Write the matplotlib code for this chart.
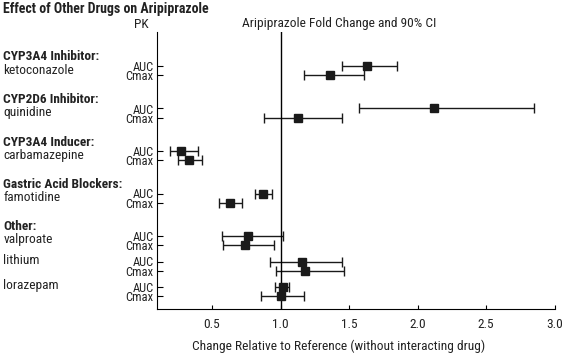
import numpy as np
import matplotlib
matplotlib.use("Agg")
import matplotlib.pyplot as plt
from matplotlib import font_manager, transforms

# condensed face close to the original's narrow grotesque
names = {f.name for f in font_manager.fontManager.ttflist}
prefs = ['Liberation Sans Narrow', 'Roboto Condensed', 'Asap Condensed', 'Barlow Condensed']
face = [n for n in prefs if n in names][:1]
plt.rcParams['font.family'] = face + ['Liberation Sans', 'DejaVu Sans']

# groups: header (bold) and drug name
headers = ["CYP3A4 Inhibitor:", "CYP2D6 Inhibitor:", "CYP3A4 Inducer:",
           "Gastric Acid Blockers:", "Other:", "", ""]
drugs = ["ketoconazole", "quinidine", "carbamazepine", "famotidine",
         "valproate", "lithium", "lorazepam"]

# fold change (point, lower 90% CI, upper 90% CI)
auc_mid = [1.63, 2.12, 0.27, 0.875, 0.765, 1.16, 1.015]
auc_lo = [1.45, 1.57, 0.19, 0.81, 0.57, 0.92, 0.96]
auc_hi = [1.85, 2.85, 0.40, 0.94, 1.02, 1.45, 1.065]
cmax_mid = [1.36, 1.13, 0.33, 0.63, 0.74, 1.18, 1.00]
cmax_lo = [1.17, 0.88, 0.25, 0.55, 0.58, 0.97, 0.86]
cmax_hi = [1.61, 1.45, 0.43, 0.72, 0.95, 1.46, 1.17]

xticks = [0.5, 1.0, 1.5, 2.0, 2.5, 3.0]

# row layout (axis units ~ pixels, downward)
y_auc = []
y = 34.3
for i, h in enumerate(headers):
    if i > 0:
        y += 42.5 if h else 25.5
    y_auc.append(y)
y_auc = np.array(y_auc)
y_cmax = y_auc + 9.2

fig = plt.figure(figsize=(5.72, 3.62), dpi=100)
ax = fig.add_axes([157.3 / 572, 1 - 309.3 / 362, (554.5 - 157.3) / 572, (309.3 - 31.7) / 362])

col = '#1a1a1a'
txt = '#222222'
for mid, lo, hi, yy in [(auc_mid, auc_lo, auc_hi, y_auc), (cmax_mid, cmax_lo, cmax_hi, y_cmax)]:
    mid = np.array(mid)
    err = [mid - np.array(lo), np.array(hi) - mid]
    ax.errorbar(mid, yy, xerr=err, fmt='s', color=col, ms=6, elinewidth=1.0,
                capsize=3.8, capthick=1.0)

ax.axvline(1.0, color='black', lw=1.0)
ax.set_xlim(0.1, 3.0)
ax.set_ylim(277.6, 0)
ax.spines['top'].set_visible(False)
ax.spines['right'].set_visible(False)

ax.set_xticks(xticks)
ax.set_xticklabels([f"{t:.1f}" for t in xticks], fontsize=9, color=txt)
ax.tick_params(axis='x', direction='in', length=3, width=0.8, pad=6)

yt = np.concatenate([y_auc, y_cmax])
ax.set_yticks(yt)
ax.set_yticklabels(["AUC"] * len(y_auc) + ["Cmax"] * len(y_cmax), fontsize=8.4, color=txt)
ax.tick_params(axis='y', direction='in', length=4, width=0.8, pad=2.5)

# group labels: x in figure fraction, y in data
tr = transforms.blended_transform_factory(fig.transFigure, ax.transData)
for h, d, ya in zip(headers, drugs, y_auc):
    if h:
        ax.text(3.3 / 572, ya - 9.0, h, transform=tr, fontsize=9, fontweight='bold',
                va='center', ha='left', color=txt)
        ax.text(3.3 / 572, ya + 4.0, d, transform=tr, fontsize=9,
                va='center', ha='left', color=txt)
    else:
        ax.text(3.3 / 572, ya - 1.0, d, transform=tr, fontsize=9,
                va='center', ha='left', color=txt)

fig.text(3 / 572, 1 - 9 / 362, "Effect of Other Drugs on Aripiprazole", fontsize=9.3,
         fontweight='bold', va='center', ha='left', color=txt)
fig.text(141.7 / 572, 1 - 24 / 362, "PK", fontsize=9, va='center', ha='center', color=txt)
fig.text(339 / 572, 1 - 23.5 / 362, "Aripiprazole Fold Change and 90% CI", fontsize=9,
         va='center', ha='center', color=txt)
xlab = fig.text(338.5 / 572, 1 - 346.5 / 362,
                "Change Relative to Reference (without interacting drug)",
                fontsize=9, va='center', ha='center', color=txt)

# scale all text so the x label is as wide as in the original (~293 px)
fig.canvas.draw()
k = 293 / xlab.get_window_extent().width
for t in fig.texts + ax.texts + ax.get_xticklabels() + ax.get_yticklabels():
    t.set_fontsize(t.get_fontsize() * k)

fig.savefig("out.png", dpi=100)
